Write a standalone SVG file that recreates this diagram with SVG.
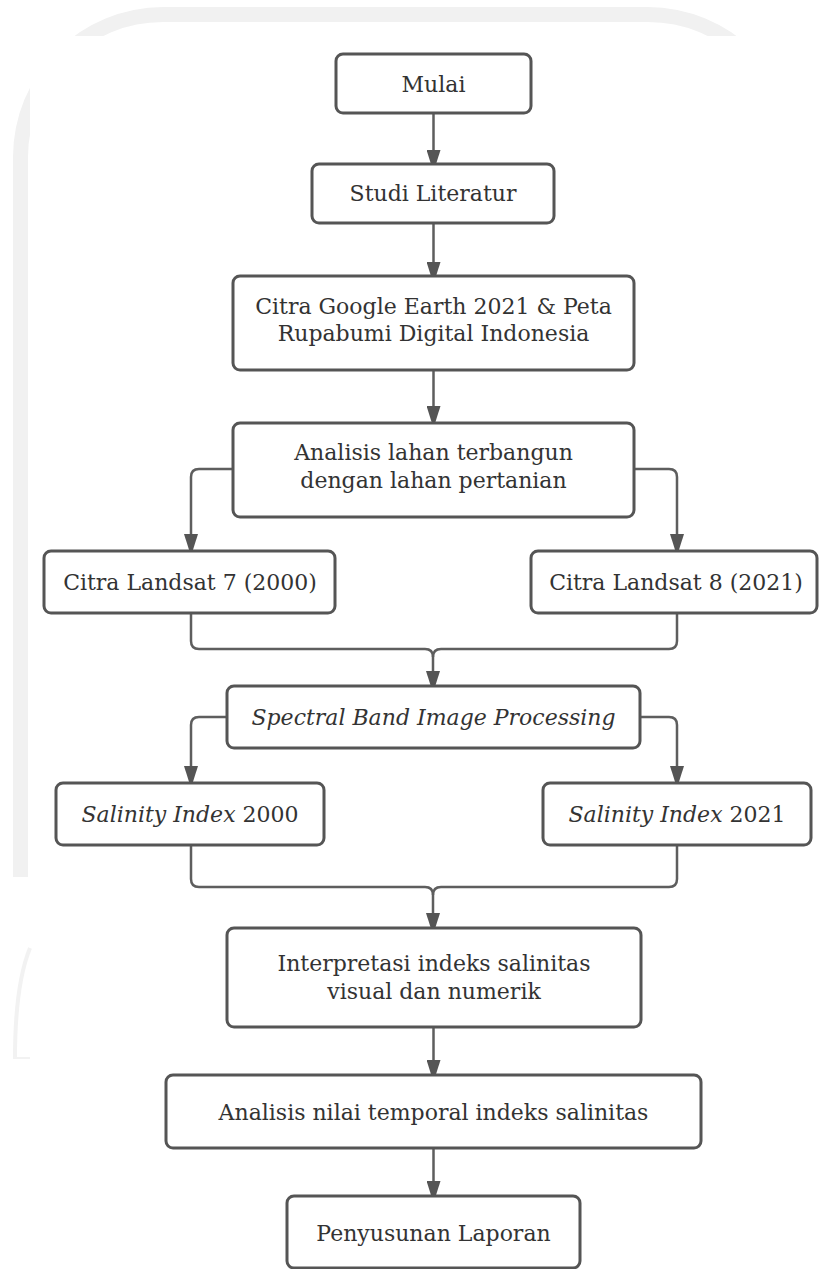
<svg xmlns="http://www.w3.org/2000/svg" width="819" height="1269" viewBox="0 0 819 1269">
<defs>
<style>
.box{fill:#fff;stroke:#555;stroke-width:3}
.t{font-family:"DejaVu Serif","Noto Serif","Liberation Serif",serif;font-size:22px;fill:#333;text-anchor:middle}
.i{font-style:italic}
.c{fill:none;stroke:#5e5e5e;stroke-width:2.5}
.wm{fill:#f1f1f1}
</style>
<marker id="ah" viewBox="0 0 22 14" refX="18" refY="7" markerWidth="22" markerHeight="14" markerUnits="userSpaceOnUse" orient="auto">
<path d="M0,0 L22,7 L0,14 Z" fill="#555"/>
</marker>
</defs>
<rect width="819" height="1269" fill="#fff"/>
<g id="watermark">
<path class="wm" d="M13,877 V157 A150,150 0 0 1 163,7 H648 A150,150 0 0 1 798,157 V300 H783 V157 A135,135 0 0 0 648,22 H163 A135,135 0 0 0 28,157 V877 Z"/>
<rect x="30" y="36" width="789" height="841" fill="#fff"/>
<path d="M30,948 Q15,985 15,1058" fill="none" stroke="#f2f2f2" stroke-width="4"/>
<path d="M13,1058 H30" stroke="#f2f2f2" stroke-width="2"/>
</g>
<g id="connectors">
<path class="c" d="M433.5,113 V168" marker-end="url(#ah)"/>
<path class="c" d="M433.5,223 V280" marker-end="url(#ah)"/>
<path class="c" d="M433.5,370 V424" marker-end="url(#ah)"/>
<path class="c" d="M233,469 H199 Q191,469 191,477 V552" marker-end="url(#ah)"/>
<path class="c" d="M634,469 H669 Q677,469 677,477 V552" marker-end="url(#ah)"/>
<path class="c" d="M191,613 V641 Q191,649 199,649 H425 Q433,649 433,657 V689" marker-end="url(#ah)"/>
<path class="c" d="M677,613 V641 Q677,649 669,649 H441 Q433,649 433,657"/>
<path class="c" d="M227,717 H199 Q191,717 191,725 V784" marker-end="url(#ah)"/>
<path class="c" d="M640,717 H669 Q677,717 677,725 V784" marker-end="url(#ah)"/>
<path class="c" d="M191,845 V879 Q191,887 199,887 H425 Q433,887 433,895 V931" marker-end="url(#ah)"/>
<path class="c" d="M677,845 V879 Q677,887 669,887 H441 Q433,887 433,895"/>
<path class="c" d="M433.5,1027 V1078" marker-end="url(#ah)"/>
<path class="c" d="M433.5,1148 V1199" marker-end="url(#ah)"/>
</g>
<g id="n-mulai">
<rect class="box" x="336" y="54" width="195" height="59" rx="7"/>
<text class="t" x="433.5" y="92">Mulai</text>
</g>
<g id="n-studi">
<rect class="box" x="312" y="164" width="242" height="59" rx="7"/>
<text class="t" x="433" y="201">Studi Literatur</text>
</g>
<g id="n-citra-google">
<rect class="box" x="233" y="276" width="401" height="94" rx="7"/>
<text class="t" x="433.5" y="314">Citra Google Earth 2021 &amp; Peta</text>
<text class="t" x="433.5" y="341">Rupabumi Digital Indonesia</text>
</g>
<g id="n-analisis-lahan">
<rect class="box" x="233" y="423" width="401" height="94" rx="7"/>
<text class="t" x="433.5" y="460">Analisis lahan terbangun</text>
<text class="t" x="433.5" y="488">dengan lahan pertanian</text>
</g>
<g id="n-landsat7">
<rect class="box" x="44" y="551" width="291" height="62" rx="7"/>
<text class="t" x="190" y="590">Citra Landsat 7 (2000)</text>
</g>
<g id="n-landsat8">
<rect class="box" x="531" y="551" width="286" height="62" rx="7"/>
<text class="t" x="676" y="590">Citra Landsat 8 (2021)</text>
</g>
<g id="n-spectral">
<rect class="box" x="227" y="686" width="413" height="62" rx="7"/>
<text class="t i" x="433.5" y="725">Spectral Band Image Processing</text>
</g>
<g id="n-si2000">
<rect class="box" x="56" y="783" width="268" height="62" rx="7"/>
<text class="t" x="190" y="822"><tspan class="i">Salinity Index</tspan> 2000</text>
</g>
<g id="n-si2021">
<rect class="box" x="543" y="783" width="268" height="62" rx="7"/>
<text class="t" x="677" y="822"><tspan class="i">Salinity Index</tspan> 2021</text>
</g>
<g id="n-interpretasi">
<rect class="box" x="227" y="928" width="414" height="99" rx="7"/>
<text class="t" x="434" y="971">Interpretasi indeks salinitas</text>
<text class="t" x="434" y="999">visual dan numerik</text>
</g>
<g id="n-analisis-nilai">
<rect class="box" x="166" y="1075" width="535" height="73" rx="7"/>
<text class="t" x="433.5" y="1120">Analisis nilai temporal indeks salinitas</text>
</g>
<g id="n-laporan">
<rect class="box" x="287" y="1196" width="293" height="72" rx="7"/>
<text class="t" x="433.5" y="1241">Penyusunan Laporan</text>
</g>
</svg>
